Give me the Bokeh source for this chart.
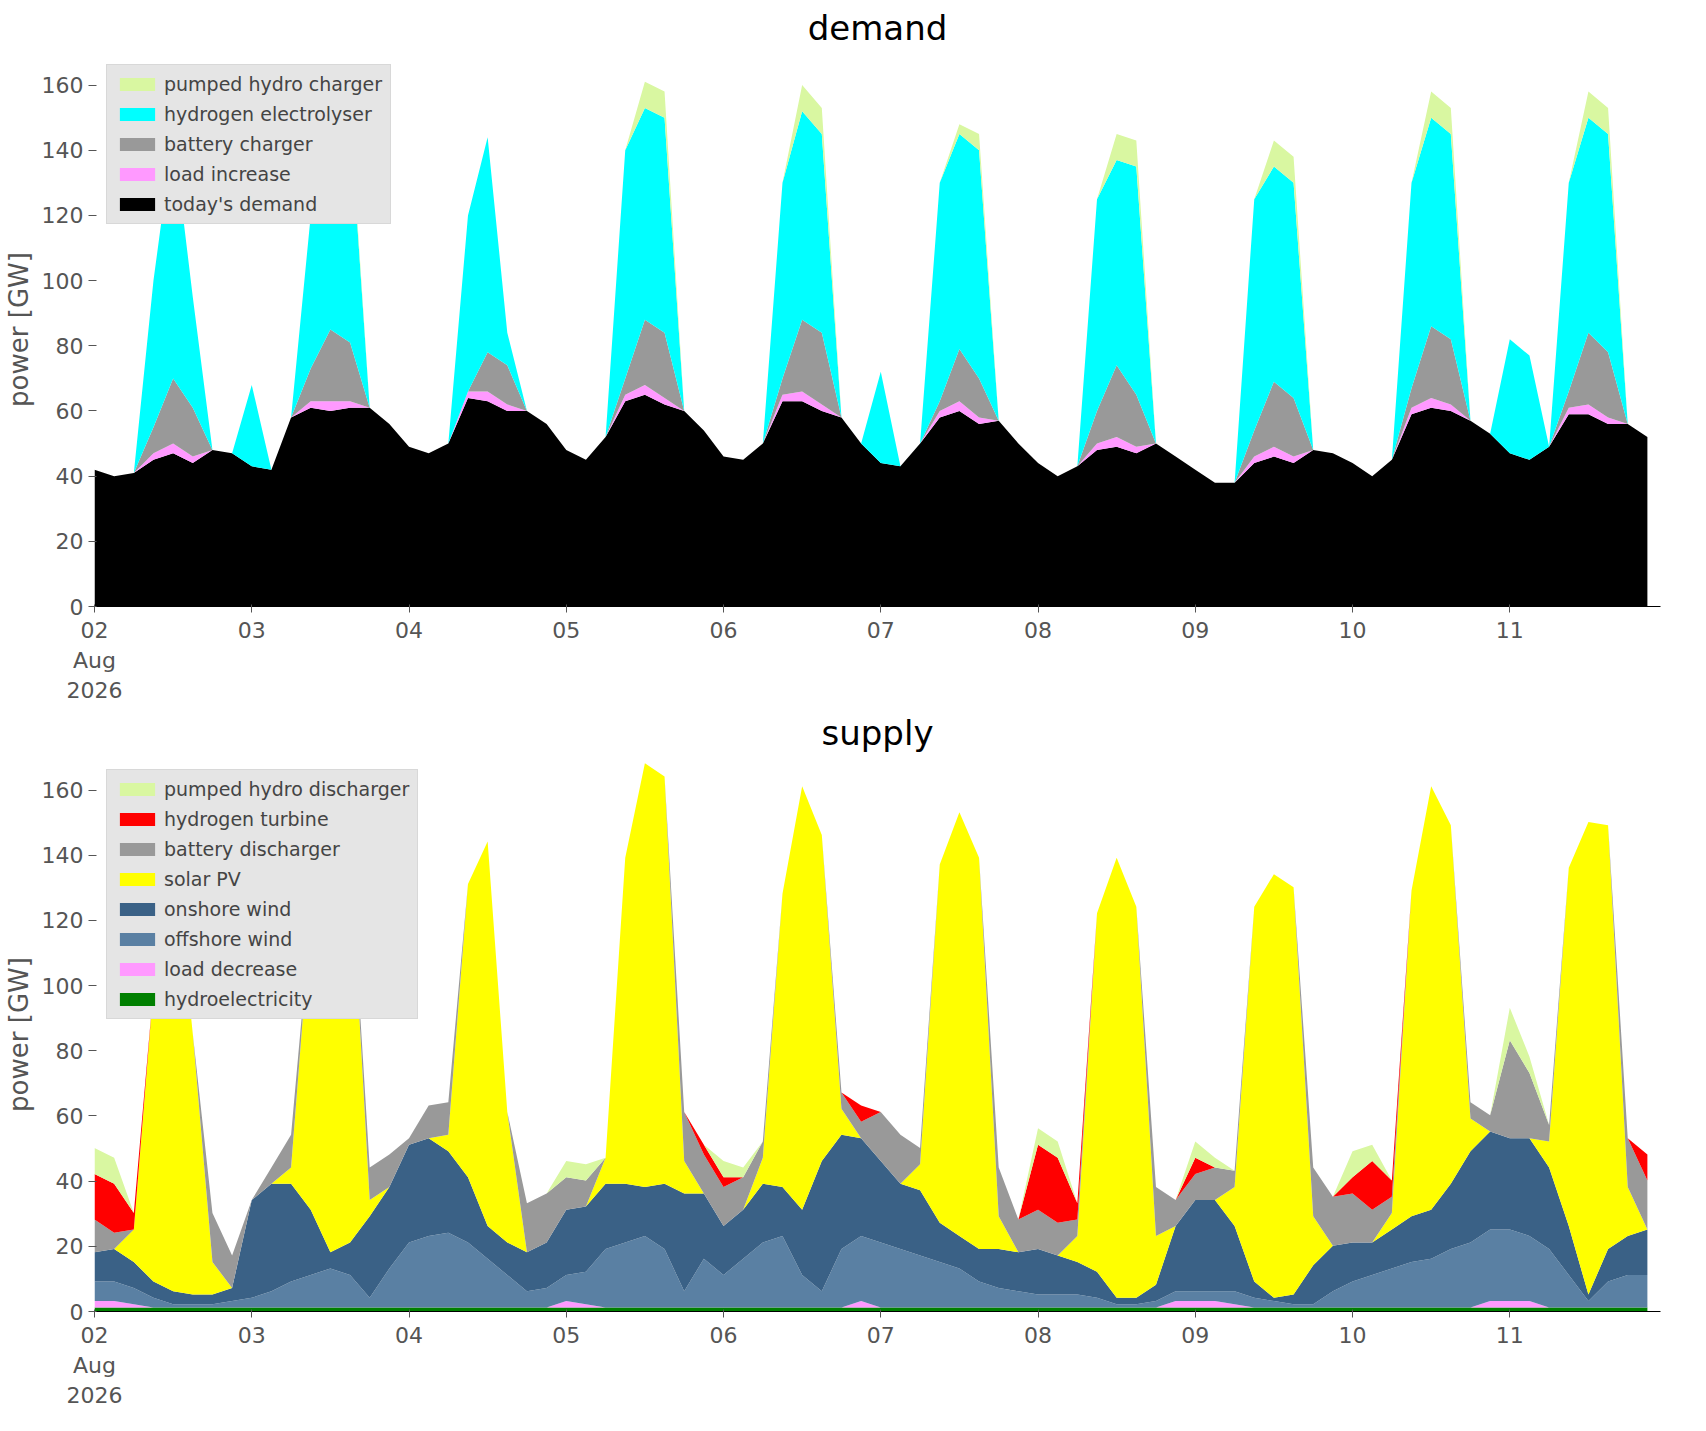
import numpy as np
import pandas as pd
from bokeh.plotting import figure
from bokeh.layouts import column
from bokeh.models import ColumnDataSource, Legend, LegendItem, FixedTicker
from bokeh.embed import file_html
from bokeh.resources import INLINE

times = pd.date_range("2026-08-02 00:00", periods=80, freq="3h")

# demand side (GW), 3-hourly
todays_demand = sum([
    [42, 40, 41, 45, 47, 44, 48, 47],
    [43, 42, 58, 61, 60, 61, 61, 56],
    [49, 47, 50, 64, 63, 60, 60, 56],
    [48, 45, 52, 63, 65, 62, 60, 54],
    [46, 45, 50, 63, 63, 60, 58, 50],
    [44, 43, 50, 58, 60, 56, 57, 50],
    [44, 40, 43, 48, 49, 47, 50, 46],
    [42, 38, 38, 44, 46, 44, 48, 47],
    [44, 40, 45, 59, 61, 60, 57, 53],
    [47, 45, 49, 59, 59, 56, 56, 52]], [])
load_increase = [0, 0, 0, 2, 3, 2, 0, 0] * 10
battery_charger = sum([
    [0, 0, 0, 8, 20, 15, 0, 0],
    [0, 0, 0, 10, 22, 18, 0, 0],
    [0, 0, 0, 0, 12, 12, 0, 0],
    [0, 0, 0, 5, 20, 20, 0, 0],
    [0, 0, 0, 5, 22, 22, 0, 0],
    [0, 0, 0, 3, 16, 12, 0, 0],
    [0, 0, 0, 10, 22, 16, 0, 0],
    [0, 0, 0, 8, 20, 18, 0, 0],
    [0, 0, 0, 6, 22, 20, 0, 0],
    [0, 0, 0, 5, 22, 20, 0, 0]], [])
electrolyser = sum([
    [0, 0, 0, 45, 75, 34, 0, 0],
    [25, 0, 0, 47, 73, 69, 0, 0],
    [0, 0, 0, 54, 66, 10, 0, 0],
    [0, 0, 0, 70, 65, 66, 0, 0],
    [0, 0, 0, 60, 64, 61, 0, 0],
    [28, 0, 0, 67, 66, 70, 0, 0],
    [0, 0, 0, 65, 63, 70, 0, 0],
    [0, 0, 0, 71, 66, 66, 0, 0],
    [0, 0, 0, 63, 64, 63, 0, 0],
    [35, 32, 0, 64, 66, 67, 0, 0]], [])
pumped_charger = sum([
    [0, 0, 0, 0, 0, 0, 0, 0],
    [0, 0, 0, 0, 3, 3, 0, 0],
    [0, 0, 0, 0, 0, 0, 0, 0],
    [0, 0, 0, 0, 8, 8, 0, 0],
    [0, 0, 0, 0, 8, 8, 0, 0],
    [0, 0, 0, 0, 3, 5, 0, 0],
    [0, 0, 0, 0, 8, 8, 0, 0],
    [0, 0, 0, 0, 8, 8, 0, 0],
    [0, 0, 0, 0, 8, 8, 0, 0],
    [0, 0, 0, 0, 8, 8, 0, 0]], [])

# supply side (GW)
hydro = [1.2] * 80
load_decrease = sum([
    [2, 2, 1, 0, 0, 0, 0, 0],
    [0] * 8,
    [0] * 8,
    [2, 1, 0, 0, 0, 0, 0, 0],
    [0, 0, 0, 0, 0, 0, 0, 2],
    [0] * 8,
    [0, 0, 0, 0, 0, 0, 0, 2],
    [2, 2, 1, 0, 0, 0, 0, 0],
    [0, 0, 0, 0, 0, 0, 0, 2],
    [2, 2, 0, 0, 0, 0, 0, 0]], [])
offshore = sum([
    [6, 6, 5, 3, 1, 1, 1, 2],
    [3, 5, 8, 10, 12, 10, 3, 12],
    [20, 22, 23, 20, 15, 10, 5, 6],
    [8, 10, 18, 20, 22, 18, 5, 15],
    [10, 15, 20, 22, 10, 5, 18, 20],
    [20, 18, 16, 14, 12, 8, 6, 5],
    [4, 4, 4, 3, 1, 1, 2, 3],
    [3, 3, 4, 3, 2, 1, 1, 5],
    [8, 10, 12, 14, 15, 18, 20, 22],
    [22, 20, 18, 10, 2, 8, 10, 10]], [])
onshore = sum([
    [9, 10, 8, 5, 4, 3, 3, 4],
    [30, 33, 30, 20, 5, 10, 25, 25],
    [30, 30, 25, 20, 10, 10, 12, 14],
    [20, 20, 20, 18, 15, 20, 30, 20],
    [15, 15, 18, 15, 20, 40, 35, 30],
    [25, 20, 20, 12, 10, 10, 12, 12],
    [14, 12, 10, 8, 2, 2, 5, 20],
    [28, 28, 20, 5, 1, 3, 12, 14],
    [12, 10, 12, 14, 15, 20, 28, 30],
    [28, 30, 25, 15, 2, 10, 12, 14]], [])
solar = sum([
    [0, 0, 10, 90, 139, 80, 10, 0],
    [0, 0, 5, 90, 140, 120, 5, 0],
    [0, 0, 5, 90, 118, 40, 0, 0],
    [0, 0, 8, 100, 130, 125, 10, 0],
    [0, 0, 8, 90, 130, 100, 8, 0],
    [0, 0, 8, 110, 130, 120, 10, 0],
    [0, 0, 8, 110, 135, 120, 15, 0],
    [0, 0, 12, 115, 130, 125, 15, 0],
    [0, 0, 5, 100, 130, 110, 10, 0],
    [0, 0, 8, 110, 145, 130, 15, 0]], [])
battery_discharger = sum([
    [10, 5, 0, 0, 0, 0, 15, 10],
    [0, 5, 10, 0, 0, 0, 10, 10],
    [2, 10, 10, 0, 0, 0, 15, 15],
    [10, 8, 0, 0, 0, 0, 15, 12],
    [12, 10, 5, 0, 0, 0, 5, 5],
    [15, 15, 5, 0, 0, 0, 15, 10],
    [12, 10, 5, 0, 0, 0, 15, 8],
    [8, 10, 5, 0, 0, 0, 15, 15],
    [15, 10, 5, 0, 0, 0, 5, 5],
    [30, 20, 5, 0, 0, 0, 15, 15]], [])
hydrogen_turbine = sum([
    [14, 15, 5, 0, 0, 0, 0, 0],
    [0] * 8,
    [0] * 8,
    [0, 0, 0, 0, 0, 0, 0, 3],
    [3, 0, 0, 0, 0, 0, 0, 5],
    [0] * 8,
    [20, 20, 5, 0, 0, 0, 0, 0],
    [5, 0, 0, 0, 0, 0, 0, 0],
    [5, 15, 5, 0, 0, 0, 0, 0],
    [0, 0, 0, 0, 0, 0, 0, 8]], [])
pumped_discharger = sum([
    [8, 8, 0, 0, 0, 0, 0, 0],
    [0] * 8,
    [0] * 8,
    [5, 5, 0, 0, 0, 0, 0, 0],
    [5, 3, 0, 0, 0, 0, 0, 0],
    [0] * 8,
    [5, 5, 0, 0, 0, 0, 0, 0],
    [5, 3, 0, 0, 0, 0, 0, 0],
    [8, 5, 0, 0, 0, 0, 0, 0],
    [10, 5, 0, 0, 0, 0, 0, 0]], [])

day_ticks = pd.date_range("2026-08-02", periods=10, freq="D")
day_labels = ["02\nAug\n2026"] + [d.strftime("%d") for d in day_ticks[1:]]

src = ColumnDataSource(dict(
    t=times, dem=todays_demand, li=load_increase, bc=battery_charger, el=electrolyser,
    pc=pumped_charger, hy=hydro, ld=load_decrease, off=offshore, on=onshore,
    pv=solar, bd=battery_discharger, ht=hydrogen_turbine, pd_=pumped_discharger))


def make_fig(title, keys, colors, names):
    p = figure(width=1690, height=705, x_axis_type="datetime", output_backend="svg",
               toolbar_location=None, title=title, y_range=(0, 170),
               x_range=(times[0], times[-1] + pd.Timedelta(hours=2)),
               min_border_left=40, min_border_right=30)
    p.title.text_font_size = "34px"
    p.title.align = "center"
    p.title.text_font_style = "normal"
    p.title.text_color = "black"
    p.title.text_font = "DejaVu Sans"
    rs = p.varea_stack(keys, x="t", source=src, color=colors)
    p.xaxis.ticker = FixedTicker(ticks=[d.value / 1e6 for d in day_ticks])
    p.xaxis.major_label_overrides = {d.value / 1e6: l for d, l in zip(day_ticks, day_labels)}
    p.yaxis.ticker = FixedTicker(ticks=list(range(0, 170, 20)))
    p.yaxis.axis_label = "power [GW]"
    for ax in (p.xaxis, p.yaxis):
        ax.major_label_text_font_size = "22px"
        ax.major_label_text_font = "DejaVu Sans"
        ax.major_label_text_color = "#555555"
        ax.axis_label_text_font_size = "26px"
        ax.axis_label_text_font = "DejaVu Sans"
        ax.axis_label_text_color = "#555555"
        ax.axis_label_text_font_style = "normal"
        ax.minor_tick_line_color = None
        ax.major_tick_line_color = "#555555"
    p.yaxis.axis_line_color = None
    p.grid.grid_line_color = None
    p.outline_line_color = None
    items = [LegendItem(label=n, renderers=[r]) for n, r in zip(names, rs)][::-1]
    leg = Legend(items=items, location="top_left", background_fill_color="#e5e5e5",
                 background_fill_alpha=1.0, border_line_color="#cccccc",
                 label_text_font_size="19px", label_text_font="DejaVu Sans",
                 glyph_width=44, glyph_height=16, spacing=8, padding=8, margin=12)
    p.add_layout(leg)
    return p


p1 = make_fig("demand", ["dem", "li", "bc", "el", "pc"],
              ["black", "#ff99ff", "#999999", "#00ffff", "#d9f7a1"],
              ["today's demand", "load increase", "battery charger",
               "hydrogen electrolyser", "pumped hydro charger"])
p2 = make_fig("supply", ["hy", "ld", "off", "on", "pv", "bd", "ht", "pd_"],
              ["green", "#ff99ff", "#5a80a3", "#3a6186", "yellow", "#999999", "red", "#d9f7a1"],
              ["hydroelectricity", "load decrease", "offshore wind", "onshore wind",
               "solar PV", "battery discharger", "hydrogen turbine", "pumped hydro discharger"])

p = column(p1, p2)
open("out.html", "w").write(file_html(p, INLINE))
